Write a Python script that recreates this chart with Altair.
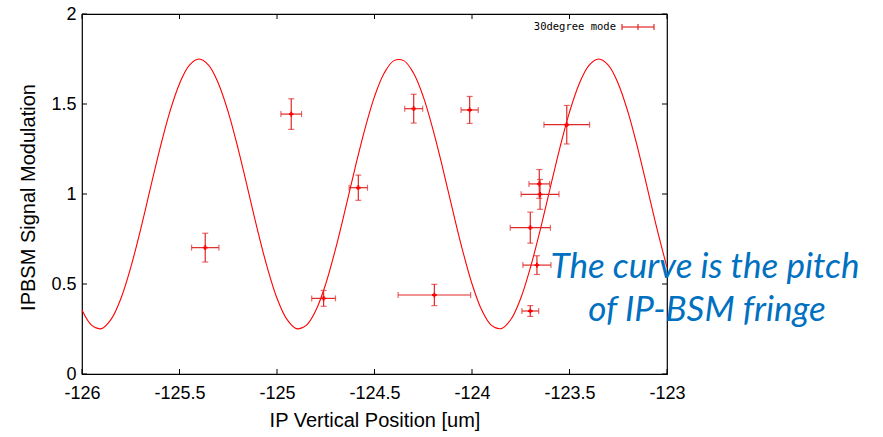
import altair as alt
import pandas as pd

# ---- data ----
curve_x = [round(-126 + 0.05 * k, 2) for k in range(61)]
curve_y = [0.355, 0.270, 0.252, 0.305, 0.421, 0.592, 0.801, 1.029, 1.254, 1.455,
           1.613, 1.715, 1.750, 1.715, 1.613, 1.455, 1.254, 1.029, 0.801, 0.592,
           0.421, 0.305, 0.252, 0.270, 0.355, 0.501, 0.694, 0.914, 1.143, 1.358,
           1.541, 1.672, 1.741, 1.741, 1.672, 1.541, 1.358, 1.143, 0.914, 0.694,
           0.501, 0.355, 0.270, 0.252, 0.304, 0.421, 0.593, 0.801, 1.029, 1.254,
           1.455, 1.613, 1.715, 1.750, 1.715, 1.613, 1.455, 1.254, 1.029, 0.801,
           0.592]

pos_x = [-125.368, -124.927, -124.761, -124.583, -124.299, -124.012, -124.193,
         -123.514, -123.655, -123.651, -123.701, -123.667, -123.701]
sig_y = [0.702, 1.444, 0.420, 1.035, 1.474, 1.467, 0.439,
         1.385, 1.056, 0.998, 0.813, 0.605, 0.350]
err_x = [0.070, 0.053, 0.061, 0.047, 0.046, 0.044, 0.186,
         0.117, 0.053, 0.097, 0.103, 0.072, 0.043]
err_y = [0.080, 0.085, 0.044, 0.070, 0.080, 0.075, 0.059,
         0.107, 0.080, 0.083, 0.086, 0.052, 0.030]

x_ticks = [-126, -125.5, -125, -124.5, -124, -123.5, -123]
y_ticks = [0, 0.5, 1, 1.5, 2]

legend_label = "30degree mode"
note_lines = ["The curve is the pitch", "of IP-BSM fringe"]

W, H = 585, 360
RED = "#ff0000"
ERR = "#e02828"

curve_df = pd.DataFrame({"x": curve_x, "y": curve_y})
pts = pd.DataFrame({"x": pos_x, "y": sig_y, "ex": err_x, "ey": err_y})
pts["xlo"] = pts.x - pts.ex
pts["xhi"] = pts.x + pts.ex
pts["ylo"] = pts.y - pts.ey
pts["yhi"] = pts.y + pts.ey

xscale = alt.Scale(domain=[-126, -123], nice=False, zero=False)
yscale = alt.Scale(domain=[0, 2], nice=False)

FONT = "Liberation Sans"
xaxis = alt.Axis(values=x_ticks, labelExpr="datum.value", ticks=False, domain=False,
                 grid=False, labelFont=FONT, labelFontSize=18, labelColor="black",
                 labelPadding=10, title="IP Vertical Position [um]", titleFont=FONT,
                 titleFontSize=20, titleFontWeight="normal", titleColor="black",
                 titlePadding=8, labelFlush=False)
yaxis = alt.Axis(values=y_ticks, labelExpr="datum.value", ticks=False, domain=False,
                 grid=False, labelFont=FONT, labelFontSize=18, labelColor="black",
                 labelPadding=6, title="IPBSM Signal Modulation", titleFont=FONT,
                 titleFontSize=20, titleFontWeight="normal", titleColor="black",
                 titlePadding=12, titleY=183, labelFlush=False)

base_curve = alt.Chart(curve_df).mark_line(color=RED, strokeWidth=1.1, interpolate="catmull-rom").encode(
    x=alt.X("x:Q", scale=xscale, axis=xaxis),
    y=alt.Y("y:Q", scale=yscale, axis=yaxis),
)

pb = alt.Chart(pts)
xbars = pb.mark_rule(color=ERR, strokeWidth=1.2).encode(
    x=alt.X("xlo:Q", scale=xscale), x2="xhi:Q", y=alt.Y("y:Q", scale=yscale))
ybars = pb.mark_rule(color=ERR, strokeWidth=1.2).encode(
    x=alt.X("x:Q", scale=xscale), y=alt.Y("ylo:Q", scale=yscale), y2="yhi:Q")
cap_xlo = pb.mark_tick(color=ERR, orient="vertical", size=6, thickness=1.2).encode(
    x=alt.X("xlo:Q", scale=xscale), y=alt.Y("y:Q", scale=yscale))
cap_xhi = pb.mark_tick(color=ERR, orient="vertical", size=6, thickness=1.2).encode(
    x=alt.X("xhi:Q", scale=xscale), y=alt.Y("y:Q", scale=yscale))
cap_ylo = pb.mark_tick(color=ERR, orient="horizontal", size=6, thickness=1.2).encode(
    x=alt.X("x:Q", scale=xscale), y=alt.Y("ylo:Q", scale=yscale))
cap_yhi = pb.mark_tick(color=ERR, orient="horizontal", size=6, thickness=1.2).encode(
    x=alt.X("x:Q", scale=xscale), y=alt.Y("yhi:Q", scale=yscale))
points = pb.mark_point(shape="cross", filled=True, color=RED, size=22, opacity=1).encode(
    x=alt.X("x:Q", scale=xscale), y=alt.Y("y:Q", scale=yscale))

# inward ticks (gnuplot style, mirrored)
xt = alt.Chart(pd.DataFrame({"t": x_ticks}))
yt = alt.Chart(pd.DataFrame({"t": y_ticks}))
TL = 5
tick_b = xt.mark_rule(color="black").encode(x=alt.X("t:Q", scale=xscale), y=alt.value(H), y2=alt.value(H - TL))
tick_t = xt.mark_rule(color="black").encode(x=alt.X("t:Q", scale=xscale), y=alt.value(0), y2=alt.value(TL))
tick_l = yt.mark_rule(color="black").encode(y=alt.Y("t:Q", scale=yscale), x=alt.value(0), x2=alt.value(TL))
tick_r = yt.mark_rule(color="black").encode(y=alt.Y("t:Q", scale=yscale), x=alt.value(W), x2=alt.value(W - TL))

# legend
leg = alt.Chart(pd.DataFrame({"label": [legend_label]}))
leg_text = leg.mark_text(align="right", baseline="middle", font="DejaVu Sans Mono",
                         fontSize=10.5, color="black").encode(
    x=alt.value(534), y=alt.value(13), text="label:N")
leg_line = leg.mark_rule(color=ERR, strokeWidth=1.2).encode(x=alt.value(540), x2=alt.value(572), y=alt.value(13))
leg_c1 = leg.mark_rule(color=ERR, strokeWidth=1.2).encode(x=alt.value(540), y=alt.value(10), y2=alt.value(16))
leg_c2 = leg.mark_rule(color=ERR, strokeWidth=1.2).encode(x=alt.value(572), y=alt.value(10), y2=alt.value(16))
leg_c3 = leg.mark_rule(color=ERR, strokeWidth=1.2).encode(x=alt.value(556), y=alt.value(10), y2=alt.value(16))

# annotation
NOTE_FONT = "Lato"
note1 = alt.Chart(pd.DataFrame({"t": [note_lines[0]]})).mark_text(
    align="center", baseline="alphabetic", font=NOTE_FONT, fontStyle="italic",
    fontSize=35, color="#0070C0").encode(x=alt.value(623), y=alt.value(264), text="t:N")
note2 = alt.Chart(pd.DataFrame({"t": [note_lines[1]]})).mark_text(
    align="center", baseline="alphabetic", font=NOTE_FONT, fontStyle="italic",
    fontSize=35, color="#0070C0").encode(x=alt.value(625), y=alt.value(307), text="t:N")

chart = alt.layer(
    base_curve, xbars, ybars, cap_xlo, cap_xhi, cap_ylo, cap_yhi, points,
    tick_b, tick_t, tick_l, tick_r,
    leg_text, leg_line, leg_c1, leg_c2, leg_c3,
    note1, note2,
).properties(
    width=W, height=H,
    autosize=alt.AutoSizeParams(type="none"),
    padding={"left": 82, "top": 14, "right": 216, "bottom": 63},
    background="white",
).configure_view(stroke="black", strokeWidth=1.2)

chart.save("out.html", embed_options={"renderer": "svg", "actions": False})
